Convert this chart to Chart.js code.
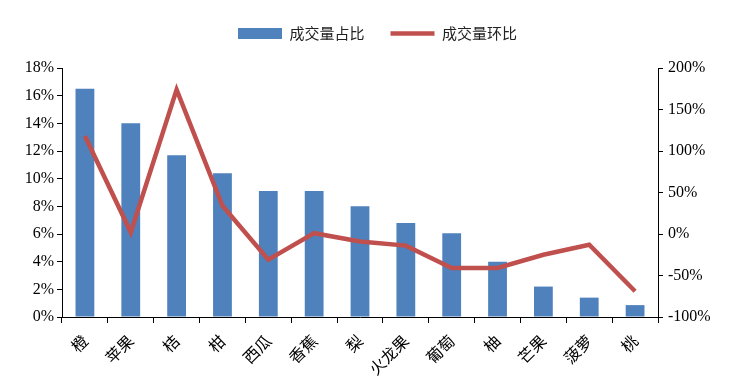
<!DOCTYPE html>
<html>
<head>
<meta charset="utf-8">
<script src="https://cdn.jsdelivr.net/npm/chart.js@4/dist/chart.umd.min.js"></script>
<style>
html,body{margin:0;padding:0;background:#fff;}
#wrap{width:749px;height:380px;}
</style>
</head>
<body>
<div id="wrap"><canvas id="c" width="749" height="380"></canvas></div>
<script>
const categories = ['橙','苹果','桔','柑','西瓜','香蕉','梨','火龙果','葡萄','柚','芒果','菠萝','桃'];
const shareValues = [16.5, 14.0, 11.7, 10.4, 9.1, 9.1, 8.0, 6.8, 6.05, 4.0, 2.2, 1.4, 0.86];
const momValues = [118, 2, 174, 34, -31, 1, -9, -14, -41, -41, -25, -13, -69];
const leftTicks = [0,2,4,6,8,10,12,14,16,18];
const rightTicks = [-100,-50,0,50,100,150,200];

const serif = "'Liberation Serif','Times New Roman',serif";
const cjk = "'Noto Sans CJK SC','Noto Sans',sans-serif";

const legendSpacer = {
  id: 'legendSpacer',
  beforeLayout(chart) {
    const lg = chart.legend;
    if (lg && !lg._patched) {
      const orig = lg.fit;
      lg.fit = function () { orig.call(this); this.height += 17; };
      lg._patched = true;
    }
  }
};

new Chart(document.getElementById('c'), {
  data: {
    labels: categories,
    datasets: [
      {
        type: 'bar', label: '成交量占比', data: shareValues, yAxisID: 'y',
        backgroundColor: '#4F81BD', borderWidth: 0,
        barPercentage: 0.41, categoryPercentage: 1.0, order: 2
      },
      {
        type: 'line', label: '成交量环比', data: momValues, yAxisID: 'y1',
        borderColor: '#C0504D', backgroundColor: '#C0504D', borderWidth: 4.5,
        pointRadius: 0, tension: 0, order: 1
      }
    ]
  },
  plugins: [legendSpacer],
  options: {
    responsive: false, animation: false,
    layout: { padding: { top: 0, left: 6, right: 0, bottom: 0 } },
    plugins: {
      legend: {
        display: true, position: 'top',
        labels: {
          usePointStyle: true, pointStyleWidth: 44, boxHeight: 11,
          color: '#222', font: { family: cjk, size: 15 }, padding: 26,
          generateLabels(chart) {
            const items = Chart.defaults.plugins.legend.labels.generateLabels(chart);
            items.sort((a, b) => a.datasetIndex - b.datasetIndex);
            items.forEach(it => {
              if (it.datasetIndex === 0) {
                it.pointStyle = 'rect'; it.lineWidth = 0;
                it.fillStyle = '#4F81BD'; it.strokeStyle = '#4F81BD';
              } else {
                it.pointStyle = 'line'; it.lineWidth = 4.5;
                it.strokeStyle = '#C0504D'; it.fillStyle = '#C0504D';
              }
            });
            return items;
          }
        }
      },
      tooltip: { enabled: false }
    },
    scales: {
      x: {
        type: 'category', offset: true,
        grid: { display: true, drawOnChartArea: false, offset: true, color: '#000', tickLength: 6 },
        border: { color: '#000', width: 1 },
        ticks: { color: '#000', font: { family: cjk, size: 16 }, minRotation: 45, maxRotation: 45, padding: 8 },
        afterFit(s) { s.height = 63; }
      },
      y: {
        position: 'left', min: 0, max: 18,
        afterBuildTicks(s) { s.ticks = leftTicks.map(v => ({ value: v })); },
        grid: { display: true, drawOnChartArea: false, color: '#000', tickLength: 5 },
        border: { color: '#000', width: 1 },
        ticks: { color: '#000', font: { family: serif, size: 16 }, padding: 3, callback: v => v + '%' },
        afterFit(s) { s.width = 56; }
      },
      y1: {
        position: 'right', min: -100, max: 200,
        afterBuildTicks(s) { s.ticks = rightTicks.map(v => ({ value: v })); },
        grid: { display: true, drawOnChartArea: false, color: '#000', tickLength: 5 },
        border: { color: '#000', width: 1 },
        ticks: { color: '#000', font: { family: serif, size: 16 }, padding: 5, callback: v => v + '%' },
        afterFit(s) { s.width = 91; }
      }
    }
  }
});
</script>
</body>
</html>
